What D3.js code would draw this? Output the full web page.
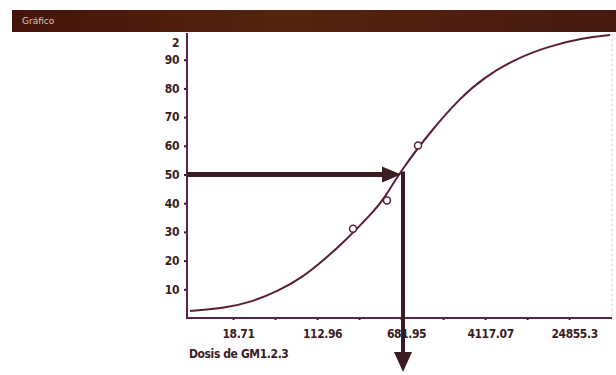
<!DOCTYPE html>
<html>
<head>
<meta charset="utf-8">
<script src="https://cdn.jsdelivr.net/npm/d3@7"></script>
<style>
  body { margin: 0; background: #fff; }
  svg { display: block; }
  .lbl, .tick text { font-family: "DejaVu Sans", sans-serif; font-stretch: condensed; font-weight: bold; font-size: 12px; fill: #3b1c22; letter-spacing: -0.4px; }
</style>
</head>
<body>
<svg id="chart" width="616" height="375"></svg>
<script>
// dose (log axis) vs response %
const xTicks = [18.71, 45.97, 112.96, 277.55, 681.95, 1675.6, 4117.07, 10116, 24855.3]
const xLabels = ["18.71", "112.96", "681.95", "4117.07", "24855.3"]
const yTicks = [10, 20, 30, 40, 50, 60, 70, 80, 90]

// fitted curve
const curveDose = [7.45, 15.8, 28.1, 49.0, 81.9, 134, 193, 366, 484, 667, 1352, 2410, 3940, 8150, 16500, 33500, 59700]
const curvePct  = [2.4, 3.5, 5.6, 9.4, 14.0, 20.6, 25.9, 36.4, 42.0, 51.0, 66.1, 76.6, 83.6, 90.6, 94.8, 97.6, 98.6]

// observed points
const obsDose = [244, 505, 980]
const obsPct  = [31.1, 40.9, 60.1]

const ec50 = 711
const midPct = 50

const margin = {top: 31, right: 4, bottom: 57, left: 187},
    width = 616, height = 375

const svg = d3.select("#chart")

const fx = d3.scaleLog()
    .domain([6.99, 62250])
    .range([margin.left, width - margin.right])
const fy = d3.scaleLinear()
    .domain([0, 100])
    .range([height - margin.bottom, margin.top])

const ink = "#3b1c22"
const curveCol = "#5c1f30"

// title bar
const grad = svg.append("defs").append("linearGradient").attr("id", "bar")
grad.append("stop").attr("offset", "0%").attr("stop-color", "#45130a")
grad.append("stop").attr("offset", "45%").attr("stop-color", "#55240e")
grad.append("stop").attr("offset", "100%").attr("stop-color", "#461810")
svg.append("rect")
    .attr("x", 12).attr("y", 10)
    .attr("width", 604).attr("height", 22)
    .attr("fill", "url(#bar)")
svg.append("text")
    .attr("x", 22).attr("y", 24)
    .attr("fill", "#d9c6b8")
    .style("font-family", "DejaVu Sans")
    .style("font-size", "9px")
    .text("Gráfico")

// right border, faint
svg.append("line")
    .attr("x1", width - 4).attr("x2", width - 4)
    .attr("y1", 34).attr("y2", fy(0))
    .attr("stroke", "#e7b6cc").attr("stroke-dasharray", "2,3")

// y axis
const yAxis = svg.append("g")
    .attr("transform", "translate(" + margin.left + ",0)")
    .call(d3.axisLeft(fy).tickValues(yTicks).tickSize(3).tickPadding(5))
yAxis.select(".domain").remove()
yAxis.selectAll(".tick line").attr("stroke", ink).attr("stroke-width", 2)
yAxis.append("text")
    .attr("class", "lbl")
    .attr("x", -8).attr("y", 47)
    .attr("text-anchor", "end")
    .text("2")

// x axis
const xAxis = svg.append("g")
    .attr("transform", "translate(0," + fy(0) + ")")
    .call(d3.axisBottom(fx)
        .tickValues(xTicks)
        .tickSize(2)
        .tickPadding(9)
        .tickFormat((d, i) => i % 2 === 0 ? xLabels[i / 2] : ""))
xAxis.select(".domain").remove()
xAxis.selectAll(".tick line").attr("stroke", ink).attr("stroke-width", 2).attr("y1", -1)
xAxis.selectAll(".tick text").attr("dx", 5)

svg.append("path")
    .attr("d", "M" + margin.left + "," + 33 + "V" + fy(0) + "H" + (width - margin.right))
    .attr("fill", "none")
    .attr("stroke", "#5a2248")
    .attr("stroke-width", 2)

svg.append("text")
    .attr("class", "lbl")
    .attr("x", margin.left + 2).attr("y", 358)
    .text("Dosis de GM1.2.3")

// curve
const pts = curveDose.map((d, i) => [d, curvePct[i]])
const valueline = d3.line()
    .x(d => fx(d[0]))
    .y(d => fy(d[1]))
    .curve(d3.curveBasis)
svg.append("path")
    .datum(pts)
    .attr("d", valueline)
    .attr("fill", "none")
    .attr("stroke", curveCol)
    .attr("stroke-width", 2)

// arrows
const ax = fx(ec50), ay = fy(midPct)
svg.append("line")
    .attr("x1", margin.left).attr("x2", ax - 18)
    .attr("y1", ay).attr("y2", ay)
    .attr("stroke", ink).attr("stroke-width", 5)
svg.append("path")
    .attr("d", "M" + (ax - 21) + "," + (ay - 8) + "L" + (ax - 2) + "," + ay + "L" + (ax - 21) + "," + (ay + 8) + "Z")
    .attr("fill", ink)
svg.append("line")
    .attr("x1", ax).attr("x2", ax)
    .attr("y1", ay - 3).attr("y2", 354)
    .attr("stroke", ink).attr("stroke-width", 4)
svg.append("path")
    .attr("d", "M" + (ax - 9) + ",352L" + ax + ",372L" + (ax + 9) + ",352Z")
    .attr("fill", ink)

// observations
svg.selectAll("circle.obs")
    .data(obsDose)
    .enter().append("circle")
    .attr("class", "obs")
    .attr("cx", d => fx(d))
    .attr("cy", (d, i) => fy(obsPct[i]))
    .attr("r", 3.5)
    .attr("fill", "#fff")
    .attr("stroke", curveCol)
    .attr("stroke-width", 1.5)
</script>
</body>
</html>
